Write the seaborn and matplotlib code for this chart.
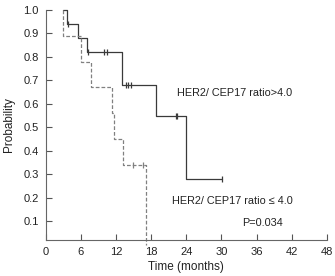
import numpy as np
import pandas as pd
import matplotlib
matplotlib.use("Agg")
import matplotlib.pyplot as plt
import seaborn as sns

# step curves (time in months, survival probability)
high_t = [3.0, 3.6, 5.5, 7.1, 13.0, 18.9, 24.0, 30.1]
high_s = [1.0, 0.94, 0.88, 0.82, 0.68, 0.55, 0.28, 0.28]
low_t = [3.0, 3.0, 6.1, 7.8, 11.3, 11.6, 13.2, 17.2]
low_s = [1.0, 0.89, 0.78, 0.67, 0.56, 0.45, 0.34, 0.0]

# censored observations
high_cens_t = [3.8, 7.3, 9.9, 10.5, 13.8, 14.1, 14.6, 22.2, 22.5, 30.1]
high_cens_s = [0.94, 0.82, 0.82, 0.82, 0.68, 0.68, 0.68, 0.55, 0.55, 0.28]
low_cens_t = [15.0, 16.7]
low_cens_s = [0.34, 0.34]

x_ticks = [0, 6, 12, 18, 24, 30, 36, 42, 48]
y_ticks = [0.1, 0.2, 0.3, 0.4, 0.5, 0.6, 0.7, 0.8, 0.9, 1.0]

sns.set_style("ticks")
plt.rcParams['font.family'] = ['Liberation Sans', 'DejaVu Sans']

fig = plt.figure(figsize=(3.35, 2.76), dpi=100)
ax = fig.add_axes([0.136, 0.130, 0.840, 0.834])

curves = pd.concat([
    pd.DataFrame({"t": high_t, "s": high_s, "grp": "high"}),
    pd.DataFrame({"t": low_t, "s": low_s, "grp": "low"}),
])
sns.lineplot(data=curves, x="t", y="s", hue="grp", style="grp",
             palette={"high": "#3a3a3a", "low": "#808080"},
             dashes={"high": "", "low": (3.0, 1.6)},
             estimator=None, sort=False, drawstyle="steps-post",
             linewidth=0.9, legend=False, ax=ax, clip_on=False)

sns.scatterplot(x=high_cens_t, y=high_cens_s, marker="|", s=20, color="#3a3a3a",
                linewidth=0.9, ax=ax, clip_on=False)
sns.scatterplot(x=low_cens_t, y=low_cens_s, marker="|", s=20, color="#808080",
                linewidth=0.9, ax=ax, clip_on=False)

ax.set_xlim(0, 48)
ax.set_ylim(0.02, 1.0)
ax.set_xticks(x_ticks)
ax.set_yticks(y_ticks)
ax.set_xticklabels([str(v) for v in x_ticks])
ax.set_yticklabels([f"{v:.1f}" for v in y_ticks])
ax.tick_params(direction="in", length=4, width=0.8, colors="#555555",
               labelsize=8, labelcolor="#222222", pad=5)
sns.despine(ax=ax)
for sp in ("left", "bottom"):
    ax.spines[sp].set_color("#666666")
    ax.spines[sp].set_linewidth(0.8)

ax.set_xlabel("Time (months)", fontsize=8.5, color="#222222", labelpad=3)
ax.set_ylabel("Probability", fontsize=8.5, color="#222222", labelpad=6)

ax.text(22.5, 0.645, "HER2/ CEP17 ratio>4.0", fontsize=7.8, color="#222222",
        va="center")
ax.text(21.5, 0.185, "HER2/ CEP17 ratio \u2264 4.0", fontsize=7.8, color="#222222",
        va="center")
ax.text(33.5, 0.095, "P=0.034", fontsize=7.8, color="#222222", va="center")

fig.savefig("out.png", dpi=100)
